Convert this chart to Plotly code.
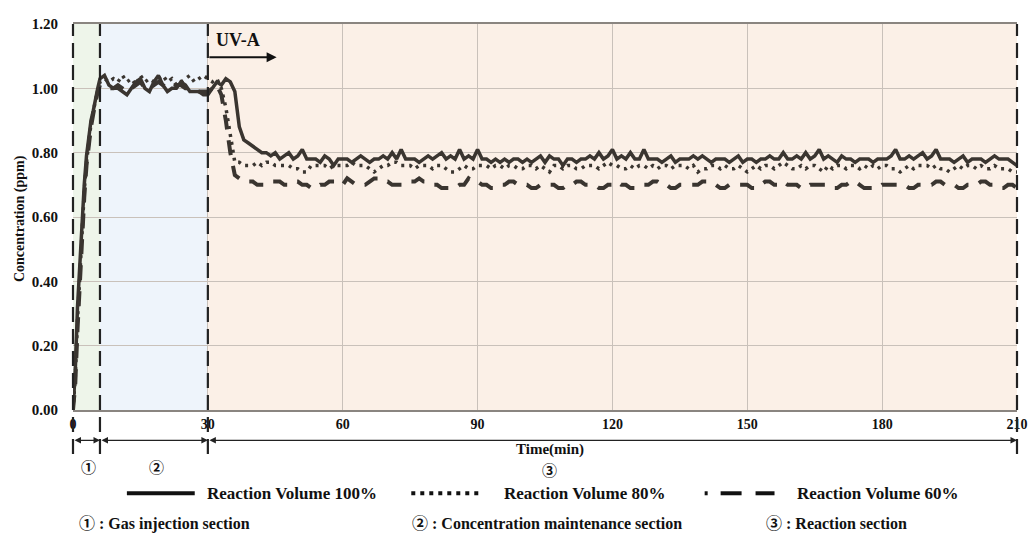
import plotly.graph_objects as go

# ---------------- data ----------------
rise_t = [0, 0.5, 1, 1.5, 2, 2.5, 3, 3.5, 4, 4.5, 5, 5.5, 6]
time_min = rise_t + list(range(7, 211))

vol100 = [
    0.00, 0.12, 0.32, 0.46, 0.58, 0.70, 0.79, 0.85, 0.90, 0.93, 0.97, 1.00, 1.03,
    1.04, 1.01, 1.00, 1.00, 0.99, 0.98, 1.00, 1.02, 1.03, 1.00, 0.99, 1.02, 1.04, 1.01, 0.99, 1.00, 1.00, 1.02, 1.01, 0.99, 0.99, 0.99, 0.98, 0.98,
    1.00, 1.02, 1.01, 1.03, 1.02, 0.99, 0.88, 0.84, 0.83, 0.82, 0.81, 0.80, 0.80, 0.79, 0.80, 0.78, 0.79, 0.80, 0.78, 0.79, 0.81, 0.78, 0.78, 0.78, 0.77, 0.79, 0.78, 0.76, 0.78, 0.78,
    0.78, 0.77, 0.78, 0.79, 0.78, 0.77, 0.78, 0.78, 0.79, 0.78, 0.80, 0.78, 0.81, 0.78, 0.78, 0.78, 0.77, 0.78, 0.79, 0.78, 0.79, 0.80, 0.78, 0.79, 0.78, 0.81, 0.78, 0.79, 0.78, 0.81,
    0.78, 0.78, 0.77, 0.78, 0.77, 0.78, 0.77, 0.78, 0.78, 0.77, 0.78, 0.77, 0.78, 0.79, 0.77, 0.79, 0.78, 0.78, 0.76, 0.78, 0.78, 0.77, 0.78, 0.78, 0.79, 0.78, 0.80, 0.78, 0.79, 0.81,
    0.78, 0.79, 0.78, 0.80, 0.78, 0.78, 0.81, 0.78, 0.78, 0.78, 0.77, 0.78, 0.79, 0.77, 0.78, 0.78, 0.78, 0.79, 0.78, 0.79, 0.78, 0.77, 0.78, 0.78, 0.78, 0.77, 0.78, 0.79, 0.77, 0.78,
    0.78, 0.77, 0.78, 0.78, 0.79, 0.78, 0.78, 0.80, 0.78, 0.78, 0.79, 0.78, 0.80, 0.78, 0.79, 0.81, 0.78, 0.79, 0.78, 0.77, 0.79, 0.78, 0.78, 0.77, 0.78, 0.78, 0.78, 0.77, 0.78, 0.78,
    0.78, 0.79, 0.81, 0.78, 0.78, 0.79, 0.78, 0.79, 0.80, 0.78, 0.79, 0.81, 0.78, 0.78, 0.78, 0.77, 0.78, 0.79, 0.77, 0.78, 0.78, 0.78, 0.77, 0.78, 0.79, 0.78, 0.78, 0.78, 0.77, 0.76,
]

vol80 = [
    0.00, 0.10, 0.28, 0.42, 0.55, 0.68, 0.77, 0.84, 0.89, 0.93, 0.96, 0.99, 1.02,
    1.03, 1.02, 1.03, 1.02, 1.04, 1.02, 1.03, 1.01, 1.04, 1.02, 1.03, 1.02, 1.03, 1.04, 1.02, 1.03, 1.01, 1.02, 1.03, 1.04, 1.02, 1.03, 1.04, 1.03,
    1.02, 1.03, 1.00, 0.94, 0.86, 0.77, 0.77, 0.76, 0.76, 0.76, 0.77, 0.76, 0.77, 0.77, 0.76, 0.76, 0.76, 0.76, 0.75, 0.75, 0.74, 0.74, 0.76, 0.76, 0.76, 0.76, 0.75, 0.76, 0.76, 0.76,
    0.76, 0.77, 0.76, 0.76, 0.76, 0.75, 0.74, 0.75, 0.76, 0.76, 0.77, 0.77, 0.76, 0.76, 0.76, 0.75, 0.76, 0.76, 0.76, 0.75, 0.76, 0.76, 0.75, 0.74, 0.74, 0.75, 0.76, 0.75, 0.75, 0.76,
    0.76, 0.76, 0.75, 0.76, 0.76, 0.75, 0.76, 0.76, 0.75, 0.75, 0.76, 0.76, 0.75, 0.76, 0.75, 0.74, 0.76, 0.76, 0.75, 0.76, 0.76, 0.75, 0.75, 0.76, 0.76, 0.76, 0.75, 0.76, 0.77, 0.76,
    0.76, 0.75, 0.75, 0.76, 0.75, 0.76, 0.76, 0.75, 0.76, 0.75, 0.76, 0.76, 0.75, 0.76, 0.76, 0.76, 0.75, 0.76, 0.74, 0.75, 0.75, 0.76, 0.76, 0.75, 0.76, 0.75, 0.75, 0.76, 0.75, 0.74,
    0.75, 0.76, 0.75, 0.76, 0.76, 0.75, 0.76, 0.77, 0.76, 0.75, 0.75, 0.76, 0.75, 0.76, 0.76, 0.75, 0.74, 0.76, 0.75, 0.76, 0.76, 0.75, 0.76, 0.76, 0.75, 0.76, 0.75, 0.76, 0.75, 0.76,
    0.76, 0.75, 0.75, 0.74, 0.75, 0.76, 0.75, 0.76, 0.76, 0.76, 0.75, 0.76, 0.75, 0.75, 0.74, 0.75, 0.76, 0.75, 0.76, 0.76, 0.75, 0.76, 0.75, 0.75, 0.76, 0.75, 0.75, 0.75, 0.74, 0.74,
]

vol60 = [
    0.00, 0.08, 0.25, 0.40, 0.53, 0.66, 0.76, 0.83, 0.88, 0.92, 0.96, 0.99, 1.01,
    1.01, 1.00, 1.00, 1.01, 1.00, 0.99, 1.00, 1.01, 1.02, 1.00, 1.00, 1.01, 1.02, 1.01, 1.00, 1.00, 1.01, 1.01, 1.00, 1.00, 1.00, 0.99, 0.99, 0.99,
    1.00, 1.01, 0.98, 0.90, 0.80, 0.73, 0.72, 0.71, 0.71, 0.71, 0.70, 0.70, 0.70, 0.71, 0.71, 0.71, 0.70, 0.70, 0.71, 0.71, 0.70, 0.70, 0.69, 0.69, 0.70, 0.70, 0.71, 0.71, 0.71, 0.70,
    0.72, 0.71, 0.70, 0.70, 0.70, 0.71, 0.72, 0.72, 0.71, 0.71, 0.70, 0.70, 0.70, 0.70, 0.71, 0.71, 0.72, 0.71, 0.71, 0.70, 0.70, 0.69, 0.69, 0.69, 0.69, 0.70, 0.70, 0.72, 0.71, 0.71,
    0.70, 0.70, 0.69, 0.69, 0.70, 0.70, 0.71, 0.71, 0.70, 0.70, 0.70, 0.69, 0.69, 0.70, 0.70, 0.70, 0.70, 0.69, 0.69, 0.70, 0.70, 0.71, 0.71, 0.70, 0.70, 0.70, 0.69, 0.69, 0.70, 0.70,
    0.71, 0.70, 0.70, 0.69, 0.69, 0.70, 0.70, 0.70, 0.71, 0.71, 0.70, 0.70, 0.69, 0.69, 0.70, 0.70, 0.70, 0.70, 0.70, 0.71, 0.71, 0.70, 0.70, 0.69, 0.69, 0.70, 0.70, 0.70, 0.70, 0.70,
    0.69, 0.69, 0.70, 0.71, 0.71, 0.70, 0.70, 0.71, 0.70, 0.70, 0.70, 0.69, 0.69, 0.70, 0.70, 0.70, 0.70, 0.70, 0.69, 0.69, 0.70, 0.70, 0.71, 0.71, 0.70, 0.69, 0.69, 0.69, 0.69, 0.70,
    0.70, 0.70, 0.70, 0.70, 0.70, 0.69, 0.69, 0.70, 0.70, 0.70, 0.70, 0.71, 0.71, 0.70, 0.70, 0.70, 0.69, 0.69, 0.70, 0.70, 0.70, 0.71, 0.71, 0.70, 0.70, 0.69, 0.69, 0.70, 0.70, 0.69,
]

series_names = ["Reaction Volume 100%", "Reaction Volume 80%", "Reaction Volume 60%"]
x_ticks = [0, 30, 60, 90, 120, 150, 180, 210]
y_ticks = [0.0, 0.2, 0.4, 0.6, 0.8, 1.0, 1.2]
section_bounds = [0, 6, 30, 210]
section_labels = ["①", "②", "③"]
section_notes = ["Gas injection section", "Concentration maintenance section", "Reaction section"]

for s in (vol100, vol80, vol60):
    if len(s) != len(time_min):
        raise SystemExit("length mismatch %d vs %d" % (len(s), len(time_min)))

# ---------------- layout helpers ----------------
OFF = 8                      # page body margin of the html page
W, H = 1036 - OFF, 535 - OFF
L, R, T, B = 73 - OFF, 17, 16 - OFF, 125
PW, PH = W - L - R, H - T - B


def px(xp):
    """screen x pixel -> paper fraction"""
    return (xp - OFF - L) / PW


def py(yp):
    """screen y pixel -> paper fraction"""
    return (OFF + T + PH - yp) / PH


LINE = "#3a3530"
FONT = "Liberation Serif, Times New Roman, serif"
CIRC = "font-family:'Noto Sans CJK KR','Noto Sans CJK JP',sans-serif;font-weight:bold"


def circ(d):
    return '<span style="%s">%s</span>' % (CIRC, d)


fig = go.Figure()
fig.add_trace(go.Scatter(x=time_min, y=vol60, mode="lines", name=series_names[2],
                         line=dict(color=LINE, width=4, dash="15px,11px")))
fig.add_trace(go.Scatter(x=time_min, y=vol80, mode="lines", name=series_names[1],
                         line=dict(color=LINE, width=3.5, dash="3px,5px")))
fig.add_trace(go.Scatter(x=time_min, y=vol100, mode="lines", name=series_names[0],
                         line=dict(color=LINE, width=3.5)))

shapes = []
fills = ["#eef5ea", "#eef4fb", "#fbf0e7"]
for i in range(3):
    shapes.append(dict(type="rect", xref="x", yref="paper", x0=section_bounds[i], x1=section_bounds[i + 1],
                       y0=0, y1=1, fillcolor=fills[i], line=dict(width=0), layer="below"))
# section boundary dashed lines
for b in section_bounds:
    if b == section_bounds[0]:
        xr, xv = "paper", 0
    elif b == section_bounds[-1]:
        xr, xv = "paper", 1
    else:
        xr, xv = "x", b
    shapes.append(dict(type="line", xref=xr, yref="paper", x0=xv, x1=xv, y0=py(455), y1=1,
                       line=dict(color="#222222", width=2.2, dash="15px,7px"), layer="above"))

# manual legend samples
ly = py(495)
shapes.append(dict(type="line", xref="paper", yref="paper", x0=px(127), x1=px(195), y0=ly, y1=ly,
                   line=dict(color="#111111", width=4)))
shapes.append(dict(type="line", xref="paper", yref="paper", x0=px(412), x1=px(484), y0=ly, y1=ly,
                   line=dict(color="#111111", width=4, dash="4px,5px")))
for a, b in [(706, 709), (722, 743), (757, 776)]:
    shapes.append(dict(type="line", xref="paper", yref="paper", x0=px(a), x1=px(b), y0=ly, y1=ly,
                       line=dict(color="#111111", width=4)))

annotations = []
# double-headed section arrows
ay_arrow = py(441)
for i in range(3):
    annotations.append(dict(x=section_bounds[i + 1], xref="x", y=ay_arrow, yref="paper",
                            ax=section_bounds[i], axref="x", ay=0, ayref="pixel",
                            text="", showarrow=True, arrowhead=2, startarrowhead=2,
                            arrowside="end+start", arrowsize=1, startarrowsize=1,
                            arrowwidth=1.3, arrowcolor="#222222"))
# section numbers
sec_x = [3.4, 18.6, 106]
sec_y = [468, 468, 471]
for lab, xv, yv in zip(section_labels, sec_x, sec_y):
    annotations.append(dict(x=xv, xref="x", y=py(yv), yref="paper", text=circ(lab), showarrow=False,
                            font=dict(size=15, color="#111111", family=FONT), yanchor="middle"))
annotations.append(dict(x=106, xref="x", y=py(450), yref="paper", text="<b>Time(min)</b>",
                        showarrow=False, font=dict(size=15, color="#111111", family=FONT), yanchor="middle"))
# UV-A
annotations.append(dict(x=30, xref="x", y=py(32), yref="paper", text="<b>UV-A</b>", showarrow=False,
                        xanchor="left", xshift=6, yanchor="middle",
                        font=dict(size=18, color="#111111", family=FONT)))
annotations.append(dict(x=45.3, xref="x", y=py(50), yref="paper", ax=30, axref="x", ay=0, ayref="pixel",
                        text="", showarrow=True, arrowhead=2, arrowsize=1, arrowwidth=2,
                        arrowcolor="#111111"))
# y title
annotations.append(dict(x=px(20), xref="paper", y=py(215), yref="paper", text="<b>Concentration (ppm)</b>",
                        textangle=-90, showarrow=False, xanchor="center", yanchor="middle",
                        font=dict(size=14, color="#111111", family=FONT)))
# legend texts
for name, xp in zip(series_names, [205, 503, 797]):
    annotations.append(dict(x=px(xp), xref="paper", y=ly, yref="paper", text="<b>" + name + "</b>",
                            showarrow=False, xanchor="left", yanchor="middle",
                            font=dict(size=17, color="#111111", family=FONT)))
for lab, note, xp in zip(section_labels, section_notes, [77, 411, 765]):
    annotations.append(dict(x=px(xp), xref="paper", y=py(524), yref="paper",
                            text=circ(lab) + "<b> : " + note + "</b>",
                            showarrow=False, xanchor="left", yanchor="middle",
                            font=dict(size=16, color="#111111", family=FONT)))

fig.update_layout(
    width=W, height=H,
    margin=dict(l=L, r=R, t=T, b=B),
    paper_bgcolor="white", plot_bgcolor="white",
    showlegend=False,
    font=dict(family=FONT, color="#111111"),
    shapes=shapes, annotations=annotations,
    xaxis=dict(range=[0, 210], tickvals=x_ticks, ticktext=[str(v) for v in x_ticks],
               showgrid=True, gridcolor="#c9c1ba", gridwidth=1, zeroline=False,
               showline=True, linecolor="#8a8580", linewidth=1.5, mirror=True,
               ticks="", tickfont=dict(size=14, family=FONT, weight="bold", color="#111111")),
    yaxis=dict(range=[0, 1.2], tickvals=y_ticks, tickformat=".2f",
               showgrid=True, gridcolor="#c9c1ba", gridwidth=1, zeroline=False,
               showline=False, ticks="", ticklabelstandoff=14,
               tickfont=dict(size=15, family=FONT, weight="bold", color="#111111")),
)

fig.write_html("out.html")
